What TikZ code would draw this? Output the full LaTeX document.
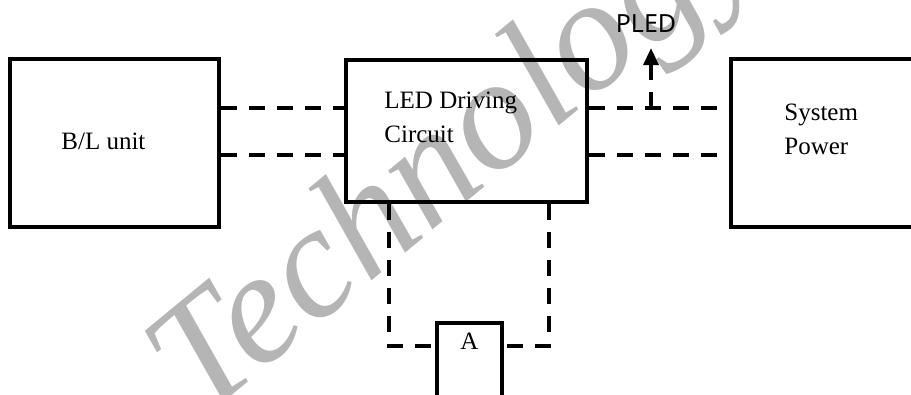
\documentclass[tikz,border=0pt]{standalone}
\usepackage{fontspec}
\setmainfont{Liberation Serif}
\newfontfamily\pledfont{Noto Sans}
\usepackage{tikz}
\usetikzlibrary{arrows.meta,positioning}

\begin{document}
\begin{tikzpicture}[x=1pt, y=-1pt,
    unit/.style={draw, line width=3.6pt, inner sep=0pt},
    link/.style={line width=3.6pt, dash pattern=on 16pt off 12pt},
    lbl/.style={inner sep=0pt, align=left, font={\fontsize{25}{34}\selectfont}}]
  \useasboundingbox (0,0) rectangle (911,394);
  \clip (0,0) rectangle (911,394);
  % watermark
  \node[anchor=base west, rotate=39.5, inner sep=0pt, text=black!29,
        font={\fontsize{160}{160}\selectfont\itshape}] (wm) at (200,422) {Technology};
  % blocks
  \node[unit, minimum width=209pt, minimum height=168pt] (bl) at (114.5,143) {};
  \node[unit, minimum width=241pt, minimum height=142pt] (led) at (466.5,131) {};
  \node[unit, minimum width=200pt, minimum height=168pt] (sys) at (831,143) {};
  \node[unit, minimum width=65pt, minimum height=97pt] (boxA) at (469.5,371.5) {};
  \node[lbl, anchor=base west] (bltext) at ([shift={(53pt,-6pt)}]bl.west) {B/L unit};
  \node[lbl, anchor=north west] (ledtext) at ([shift={(40pt,-34pt)}]led.north west) {LED Driving\\Circuit};
  \node[lbl, anchor=north west] (systext) at ([shift={(55pt,-47pt)}]sys.north west) {System\\Power};
  \node[lbl, anchor=base] (atext) at ([yshift=-28pt]boxA.north) {A};
  \node[inner sep=0pt, font={\pledfont\fontsize{25}{25}\selectfont}] (pled) at (646,24) {PLED};
  % buses
  \coordinate (busA) at (0,108);
  \coordinate (busB) at (0,155);
  \coordinate (tap) at (651,108);
  \coordinate (legL) at (389,346);
  \coordinate (legR) at (549,346);
  \draw[link] (bl.east |- busA) -- (led.west |- busA);
  \draw[link] (bl.east |- busB) -- (led.west |- busB);
  \draw[link] (led.east |- busA) -- (sys.west |- busA);
  \draw[link] (led.east |- busB) -- (sys.west |- busB);
  \draw[link, -{Triangle[length=17pt, width=15pt]}, shorten >=15pt] (tap) -- (tap |- pled.south);
  \draw[link] (legL |- led.south) -- (legL) -- (boxA.west |- legL);
  \draw[link] (legR |- led.south) -- (legR) -- (boxA.east |- legR);
\end{tikzpicture}
\end{document}
